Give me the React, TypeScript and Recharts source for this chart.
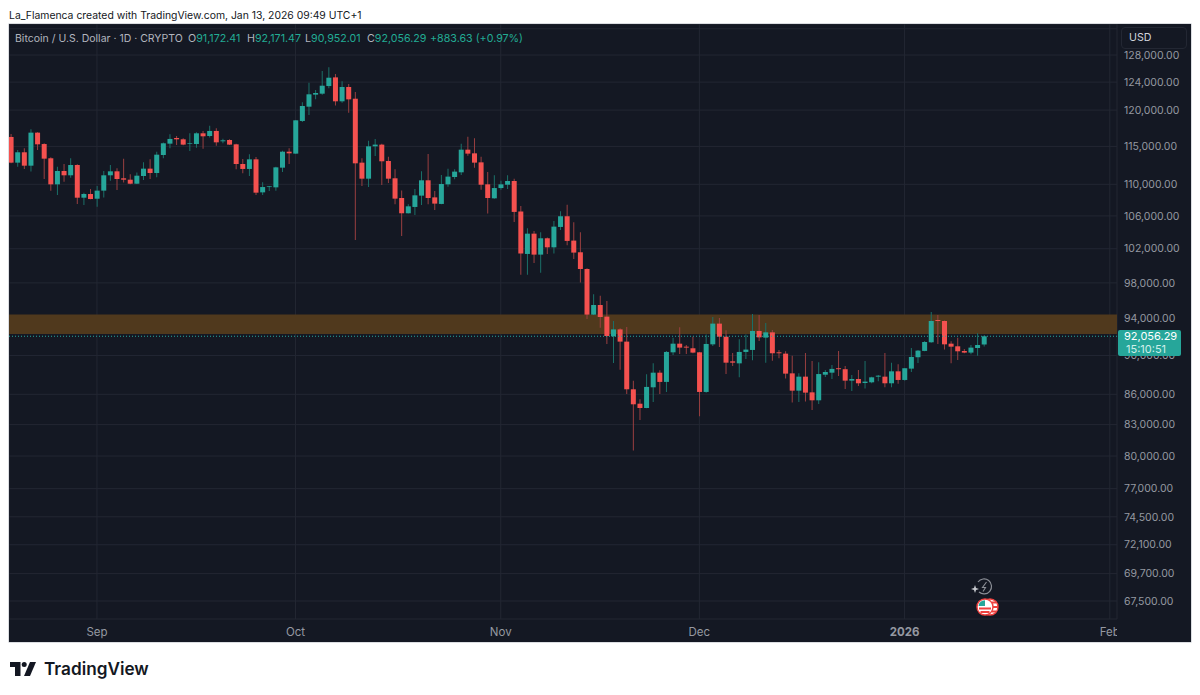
import { Bar, CartesianGrid, Cell, ComposedChart, ReferenceArea, ReferenceLine, XAxis, YAxis } from "recharts";

const opens = [
  116280, 112830, 114210, 112430, 116870, 115320, 113410, 110000, 111730, 111170,
  112520, 108290, 108760, 108160, 109190, 111170, 111690, 110780, 110600, 110080,
  111080, 112040, 111470, 113850, 115370, 116140, 115960, 115370, 115320, 116780,
  116410, 117100, 115690, 115870, 115280, 112650, 112000, 113270, 108970, 109650,
  109610, 112170, 114290, 114030, 118480, 120480, 122190, 122330, 123430, 124690,
  121240, 123290, 121610, 112830, 110730, 115010, 115240, 113050, 110780, 108250,
  106330, 107120, 108550, 110520, 108330, 107500, 110000, 110950, 111560, 114560,
  114070, 112870, 110000, 108210, 109520, 109950, 110430, 106540, 101380, 103820,
  101300, 103260, 102170, 104640, 105960, 102980, 101580, 99610, 94420, 95490,
  94200, 92050, 92800, 91480, 86510, 85060, 84630, 86710, 88210, 87260,
  90340, 91260, 90940, 90770, 90340, 86240, 91190, 93430, 92010, 89390,
  89180, 90380, 90590, 92630, 91910, 92480, 90340, 90200, 88140, 86370,
  87800, 86200, 85400, 88000, 88210, 88670, 88570, 87390, 87560, 87150,
  87220, 87800, 87800, 87120, 88350, 87460, 88630, 89820, 90490, 91410,
  93830, 93720, 91260, 90980, 90480, 90310, 90800, 91172.41,
];
const highs = [
  116690, 114520, 114740, 117330, 116910, 115410, 113540, 112300, 112650, 113410,
  112610, 108930, 109400, 109780, 111730, 112520, 112080, 113360, 111300, 111520,
  112870, 113270, 114290, 115510, 116640, 116410, 116100, 116780, 116910, 117100,
  117830, 117460, 116050, 115960, 115370, 113320, 113940, 113580, 110260, 109780,
  112300, 114420, 114740, 118620, 121100, 123920, 122860, 125630, 126170, 125180,
  124110, 123720, 122570, 113410, 115770, 116010, 115370, 113630, 111950, 109220,
  107450, 109400, 111690, 113980, 109140, 111210, 112040, 111950, 115370, 116320,
  116100, 113630, 111600, 111170, 110470, 111170, 110730, 107250, 104470, 104150,
  103980, 103340, 105380, 106580, 107410, 105210, 103980, 99690, 96700, 96540,
  95940, 93720, 92920, 93060, 87390, 85500, 88040, 89180, 88450, 90480,
  91900, 93030, 91120, 92010, 90380, 92260, 94160, 94050, 92700, 90270,
  91730, 92260, 94490, 94380, 93500, 92730, 90590, 90450, 89990, 88140,
  90270, 89430, 89290, 88490, 89010, 90480, 88910, 87970, 88490, 89430,
  87800, 87970, 90270, 89250, 89080, 88700, 90800, 90590, 91550, 94710,
  94380, 93760, 91510, 91900, 90700, 91120, 92370, 92171.47,
];
const lows = [
  112740, 112300, 112000, 111650, 114520, 110690, 109190, 108630, 110340, 110860,
  107500, 107370, 108080, 107160, 108330, 110470, 109260, 110250, 110000, 110040,
  110560, 110690, 110910, 113410, 114740, 115190, 115150, 114390, 114830, 114700,
  116190, 115100, 115420, 115190, 111950, 111430, 111080, 108630, 108630, 109140,
  109190, 111600, 112650, 113980, 118340, 119310, 121520, 122190, 123100, 120630,
  121050, 119640, 103060, 109780, 109650, 113720, 109910, 110170, 107450, 103540,
  106290, 106120, 107370, 107450, 106740, 107450, 109690, 110650, 111210, 113760,
  112170, 109310, 106290, 108170, 109310, 109400, 105250, 98950, 98950, 100320,
  99180, 101380, 101420, 104270, 102410, 100790, 98030, 93940, 94380, 92990,
  91230, 89220, 88520, 86030, 80510, 83450, 84600, 85230, 86030, 86240,
  90060, 90170, 90170, 90240, 83810, 86170, 91010, 90900, 88070, 88900,
  87730, 89640, 89500, 91550, 89250, 89460, 89720, 87600, 85170, 85230,
  85270, 84440, 85030, 87770, 87560, 87870, 86540, 86340, 86850, 86580,
  87120, 87320, 86710, 86710, 87080, 87390, 88280, 89220, 90450, 91370,
  91230, 90630, 89180, 89530, 90240, 90130, 89990, 90952.01,
];
const closes = [
  112830, 114210, 112430, 116870, 115280, 113360, 110000, 111730, 111170, 112520,
  108290, 108760, 108120, 109190, 111170, 111690, 110690, 110600, 110080, 111120,
  112040, 111470, 113890, 115420, 116010, 115960, 115240, 115460, 116780, 116370,
  117100, 115550, 115820, 115240, 112650, 112000, 113270, 108930, 109650, 109740,
  112210, 114290, 114070, 118570, 120580, 122240, 122430, 123480, 124640, 121240,
  123290, 121520, 112740, 110730, 115010, 115240, 113010, 110730, 108170, 106330,
  107200, 108590, 110520, 108250, 107540, 110040, 111000, 111650, 114560, 114030,
  112830, 109950, 108250, 109520, 110000, 110430, 106500, 101420, 103820, 101300,
  103260, 102170, 104680, 105960, 102940, 101540, 99610, 94420, 95490, 94160,
  92080, 92800, 91480, 86510, 85000, 84630, 86750, 88210, 87260, 90380,
  91260, 90840, 90840, 90310, 86240, 91230, 93430, 92010, 89250, 89250,
  90380, 90630, 92630, 91940, 92480, 90240, 90240, 88110, 86370, 87800,
  86170, 85400, 88070, 88280, 88600, 88570, 87390, 87560, 87120, 87290,
  87730, 87900, 87120, 88350, 87460, 88670, 89850, 90520, 91440, 93720,
  93720, 91190, 90940, 90450, 90310, 90840, 91120, 92056.29,
];

const priceTicks = [132000, 128000, 124000, 120000, 115000, 110000, 106000, 102000, 98000, 94000, 90000, 86000, 83000, 80000, 77000, 74500, 72100, 69700, 67500];
const monthTicks = [13, 43, 74, 104, 135, 166];
const monthLabels = ["Sep", "Oct", "Nov", "Dec", "2026", "Feb"];
const bandPrices = [92300, 94430];
const lastPrice = 92056.29;

const UP = "#26A69A";
const DOWN = "#F4514F";
const UP_WICK = "#1B7068";
const DOWN_WICK = "#9A3F40";
const BG = "#141823";
const GRID = "#232733";
const AXIS = "#9598A1";
const FONT = "Inter, 'Noto Sans', sans-serif";

const rows = opens.map((o, i) => ({
  day: i,
  wick: [lows[i], highs[i]],
  body: [Math.min(o, closes[i]), Math.max(o, closes[i])],
  up: closes[i] >= o,
}));

const fmtPrice = (v: number) => v.toLocaleString("en-US", { minimumFractionDigits: 2, maximumFractionDigits: 2 });
// the top gridline's label sits behind the USD box in the original
const fmtTick = (v: number) => (v === 132000 ? "" : fmtPrice(v));

function MonthTick({ x, y, payload }: any) {
  const idx = monthTicks.indexOf(payload.value);
  const label = monthLabels[idx];
  return (
    <g>
      <clipPath id={`month-clip-${idx}`}>
        <rect x={0} y={595} width={1108} height={23} />
      </clipPath>
      <text
        x={x}
        y={y + 9}
        textAnchor="middle"
        fontFamily={FONT}
        fontSize={11.5}
        fontWeight={label === "2026" ? 700 : 400}
        fill={AXIS}
        clipPath={`url(#month-clip-${idx})`}
      >
        {label}
      </text>
    </g>
  );
}

const headerItems: [string, string, number][] = [
  ["O", "91,172.41", 188],
  ["H", "92,171.47", 247],
  ["L", "90,952.01", 305],
  ["C", "92,056.29", 367],
];

function abs(x: number, y: number, extra: React.CSSProperties = {}): React.CSSProperties {
  return { position: "absolute", left: x, top: y, whiteSpace: "nowrap", fontFamily: FONT, lineHeight: "14px", ...extra };
}

export default function App() {
  return (
    <div style={{ position: "absolute", left: 0, top: 0, width: 1200, height: 695, background: "#fff", overflow: "hidden" }}>
      <div style={abs(9, 9, { fontSize: 10.4, color: "#131722" })}>
        La_Flamenca created with TradingView.com, Jan 13, 2026 09:49 UTC+1
      </div>

      <div style={{ position: "absolute", left: 9, top: 24, width: 1182, height: 618, background: BG, boxShadow: "0 0 0 0.5px #b8bcc4" }}>
        <ComposedChart width={1182} height={618} data={rows} margin={{ top: 0, right: 0, bottom: 0, left: 0 }}>
          <CartesianGrid xAxisId="body" yAxisId="price" stroke={GRID} strokeWidth={1} />
          <XAxis
            xAxisId="body"
            dataKey="day"
            type="number"
            domain={[-0.287, 167.09]}
            allowDataOverflow
            ticks={monthTicks}
            interval={0}
            axisLine={false}
            tickLine={false}
            height={23}
            tick={<MonthTick />}
          />
          <XAxis xAxisId="wick" dataKey="day" type="number" domain={[-0.287, 167.09]} allowDataOverflow hide />
          <YAxis
            yAxisId="price"
            orientation="right"
            scale="log"
            domain={[66090, 132740]}
            allowDataOverflow
            ticks={priceTicks}
            interval={0}
            width={74}
            axisLine={false}
            tickLine={false}
            tickMargin={1}
            tickFormatter={fmtTick}
            tick={{ fontSize: 10.5, fill: AXIS, fontFamily: FONT }}
          />
          <ReferenceArea
            xAxisId="body"
            yAxisId="price"
            y1={bandPrices[0]}
            y2={bandPrices[1]}
            fill="#50391D"
            fillOpacity={1}
            stroke="none"
          />
          <ReferenceLine
            xAxisId="body"
            yAxisId="price"
            y={lastPrice}
            stroke={UP}
            strokeWidth={1}
            strokeDasharray="1 2"
          />
          <Bar xAxisId="wick" yAxisId="price" dataKey="wick" barSize={1} isAnimationActive={false}>
            {rows.map((r) => (
              <Cell key={r.day} fill={r.up ? UP_WICK : DOWN_WICK} />
            ))}
          </Bar>
          <Bar xAxisId="body" yAxisId="price" dataKey="body" barSize={5} isAnimationActive={false}>
            {rows.map((r) => (
              <Cell key={r.day} fill={r.up ? UP : DOWN} />
            ))}
          </Bar>
        </ComposedChart>
      </div>

      {/* legend row */}
      <div style={abs(15, 32, { fontSize: 10.5, color: "#B2B5BE" })}>Bitcoin / U.S. Dollar · 1D · CRYPTO</div>
      {headerItems.map(([k, v, x]) => (
        <div key={k} style={abs(x, 32, { fontSize: 10.7, color: "#B2B5BE" })}>
          {k}
          <span style={{ color: "#22AB94" }}>{v}</span>
        </div>
      ))}
      <div style={abs(430, 32, { fontSize: 10.7, color: "#22AB94" })}>+883.63 (+0.97%)</div>

      {/* currency box */}
      <div
        style={abs(1121, 27, {
          width: 66,
          height: 22,
          boxSizing: "border-box",
          background: BG,
          border: "1px solid #232733",
          borderRadius: 4,
          fontSize: 10.7,
          color: "#D1D4DC",
          paddingLeft: 7,
          lineHeight: "20px",
        })}
      >
        USD
      </div>

      {/* last price tag */}
      <div style={abs(1118, 330, { width: 63, height: 26, background: "#26A69A", borderRadius: 2 })} />
      <div style={abs(1124, 330, { fontSize: 11, color: "#fff", lineHeight: "12.5px" })}>
        {fmtPrice(lastPrice)}
        <br />
        <span style={{ color: "#CFEFEA", marginLeft: 2 }}>15:10:51</span>
      </div>

      {/* event markers */}
      <svg style={{ position: "absolute", left: 965, top: 575 }} width={40} height={45}>
        <path d="M13 7 A7.5 7.5 0 1 1 14 17" fill="none" stroke="#8B8E96" strokeWidth={1.2} />
        <path d="M21.5 7 L17.5 12.5 H20.5 L18 16.5" fill="none" stroke="#8B8E96" strokeWidth={1.1} />
        <path d="M10 10 L11 13 L14 14 L11 15 L10 18 L9 15 L6 14 L9 13 Z" fill="#C9CBD1" />
        <circle cx={25} cy={32} r={8} fill="#fff" stroke="#F0413F" strokeWidth={1.4} />
        <path d="M27 27.5 H31 M27 32 H33 M27 36.5 H31" stroke="#F0413F" strokeWidth={2} />
        <circle cx={20} cy={32} r={8} fill="#fff" stroke="#F0413F" strokeWidth={1.4} />
        <path d="M14 33.5 H26 M15.5 37 H24.5" stroke="#F0413F" strokeWidth={1.8} />
        <path d="M13.5 31 A6.8 6.8 0 0 1 20 25.2 V31 Z" fill="#26A69A" />
      </svg>

      {/* logo */}
      <svg style={{ position: "absolute", left: 9, top: 660 }} width={30} height={18}>
        <path d="M1 2 H11.5 V16 H6 V7 H1 Z" fill="#131722" />
        <circle cx={15.2} cy={4.4} r={2.5} fill="#131722" />
        <path d="M21 2 H27 L21 16 H15 Z" fill="#131722" />
      </svg>
      <div style={abs(44, 659, { fontSize: 17.2, fontWeight: 600, color: "#131722", lineHeight: "20px" })}>TradingView</div>
    </div>
  );
}
